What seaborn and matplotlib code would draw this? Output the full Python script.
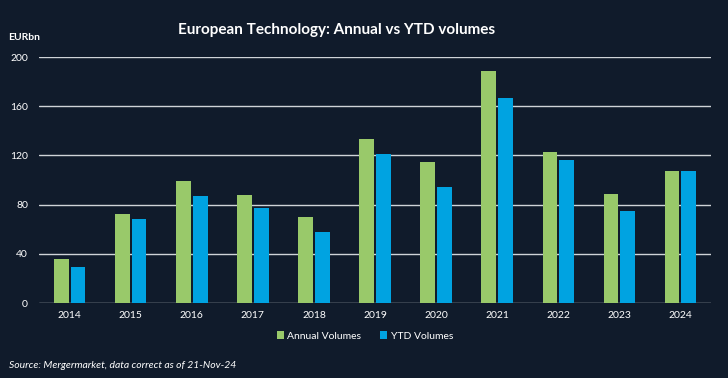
import pandas as pd
import matplotlib.pyplot as plt
import seaborn as sns

years = ['2014', '2015', '2016', '2017', '2018', '2019', '2020', '2021', '2022', '2023', '2024']
annual_volumes = [36, 72, 99, 88, 70, 133, 115, 189, 123, 89, 107]
ytd_volumes = [29, 68, 87, 77, 58, 121, 94, 167, 116, 75, 107]
series_names = ['Annual Volumes', 'YTD Volumes']

bg = '#101b2b'
colors = ['#99c96a', '#00a3e1']

df = pd.DataFrame({'Year': years * 2,
                   'Volume': annual_volumes + ytd_volumes,
                   'Series': [series_names[0]] * len(years) + [series_names[1]] * len(years)})

sns.set_theme(style='dark')
plt.rcParams['font.family'] = ['Lato', 'DejaVu Sans']

fig = plt.figure(figsize=(7.28, 3.78), dpi=100, facecolor=bg)
ax = fig.add_axes([0.0536, 0.1984, 0.9231, 0.6508])
ax.set_facecolor(bg)

sns.barplot(data=df, x='Year', y='Volume', hue='Series', palette=colors,
            saturation=1, linewidth=0, width=0.55, gap=0.12, ax=ax, legend=True)

ax.set_ylim(0, 200)
ax.set_xlim(-0.5, len(years) - 0.5)
ax.set_yticks(range(0, 201, 40))
ax.grid(axis='y', color='#cfd3d8', linewidth=1)
ax.grid(axis='x', visible=False)
ax.set_axisbelow(True)
for s in ax.spines.values():
    s.set_visible(False)
ax.set_xlabel('')
ax.set_ylabel('')
ax.tick_params(axis='both', colors='white', labelsize=7.5, length=0)
ax.tick_params(axis='y', pad=8)
ax.tick_params(axis='x', pad=6)

handles, labels = ax.get_legend_handles_labels()
ax.get_legend().remove()
for h in handles:
    h.set_linewidth(0)
fig.legend(handles, labels, loc='center', bbox_to_anchor=(365 / 728, 1 - 336 / 378),
           ncol=2, frameon=False, fontsize=7.5, labelcolor='white',
           handlelength=0.7, handleheight=0.7, handletextpad=0.3, columnspacing=1.8)

fig.text(337 / 728, 1 - 30 / 378, 'European Technology: Annual vs YTD volumes',
         ha='center', va='center', color='white', fontsize=11, fontweight='bold')
fig.text(8 / 728, 1 - 37 / 378, 'EURbn', ha='left', va='center',
         color='white', fontsize=7.5, fontweight='bold')
fig.text(9 / 728, 1 - 365 / 378, 'Source: Mergermarket, data correct as of 21-Nov-24',
         ha='left', va='center', color='white', fontsize=7.5, style='italic')

fig.savefig('out.png', dpi=100, facecolor=bg)
